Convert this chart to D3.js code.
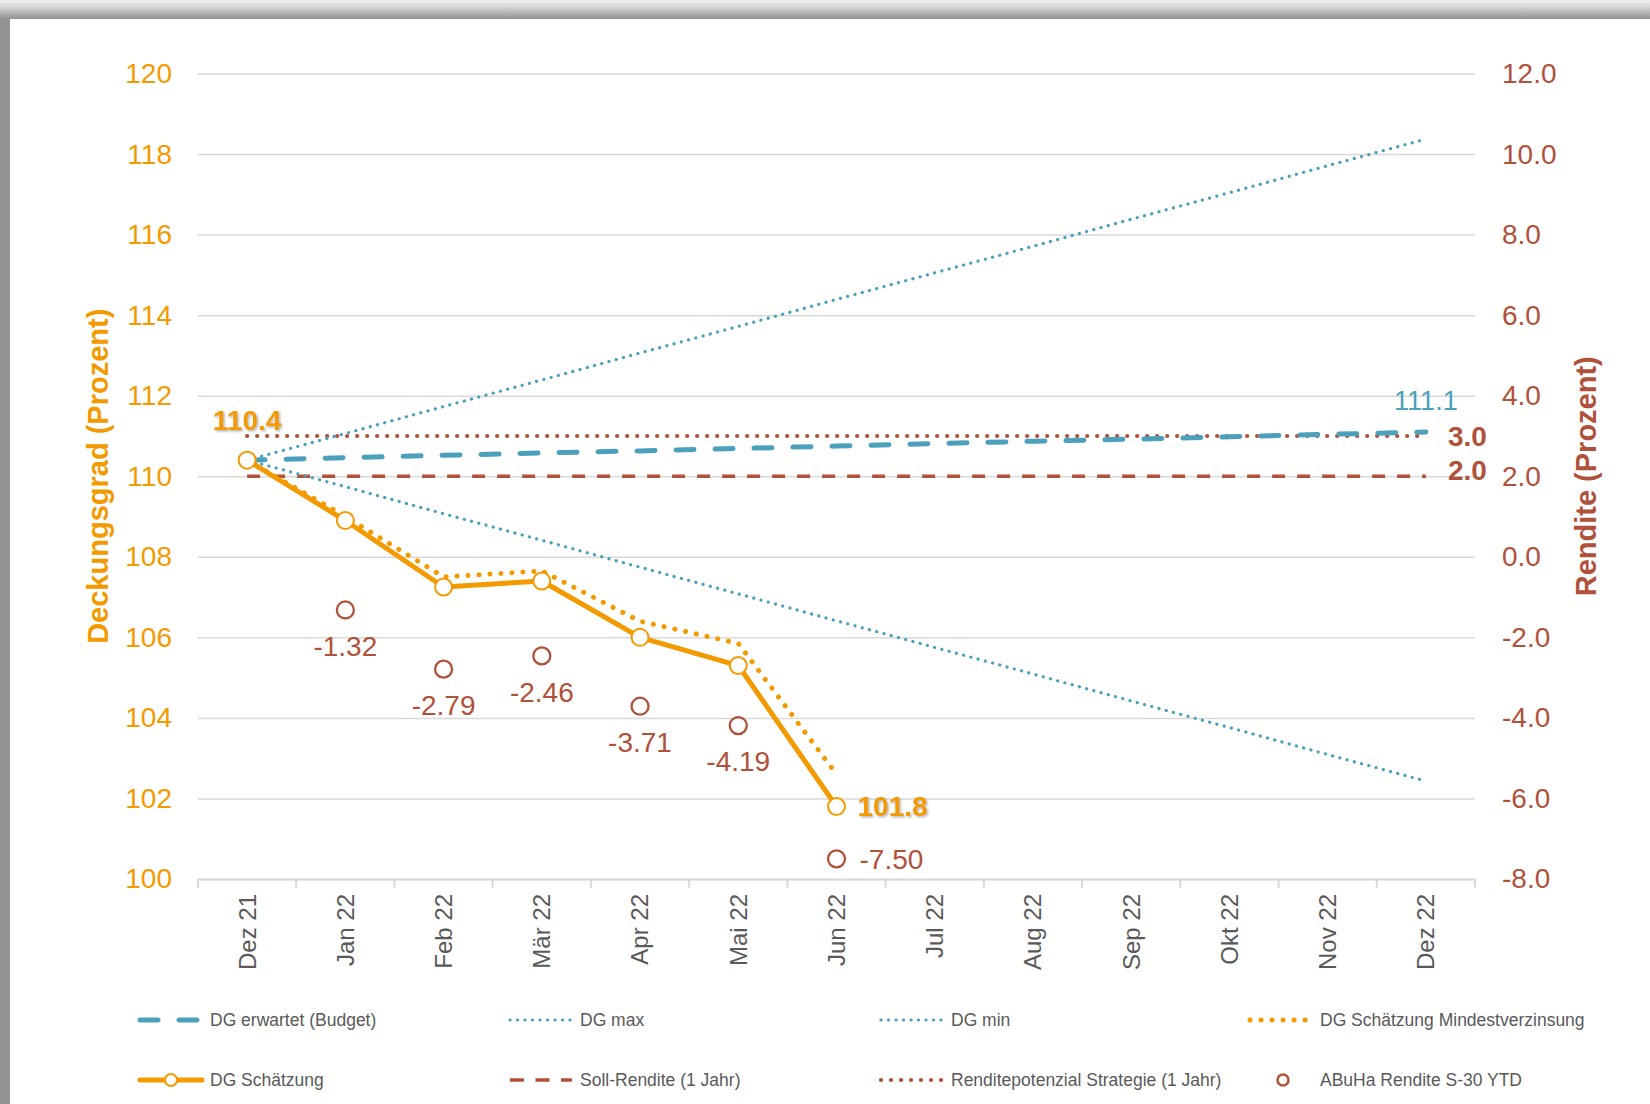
<!DOCTYPE html>
<html>
<head>
<meta charset="utf-8">
<script src="https://cdn.jsdelivr.net/npm/d3@7"></script>
<style>
  body { margin: 0; background: #fff; }
  svg { display: block; font-family: "Liberation Sans", Arial, sans-serif; }
</style>
</head>
<body>
<div id="chart"></div>
<script>
// chart data
var months = ["Dez 21","Jan 22","Feb 22","Mär 22","Apr 22","Mai 22","Jun 22","Jul 22","Aug 22","Sep 22","Okt 22","Nov 22","Dez 22"]
var dgBudget = [110.40,110.46,110.52,110.58,110.63,110.69,110.75,110.81,110.87,110.92,110.98,111.04,111.10]
var dgMax = [110.40,111.06,111.73,112.39,113.06,113.72,114.39,115.05,115.71,116.38,117.04,117.71,118.37]
var dgMin = [110.40,109.74,109.07,108.41,107.74,107.08,106.41,105.75,105.09,104.42,103.76,103.09,102.43]
var dgMindest = [110.40,109.00,107.50,107.65,106.40,105.85,102.60]
var dgSchaetzung = [110.40,108.90,107.25,107.40,106.00,105.30,101.80]
var sollRendite = [2.0,2.0,2.0,2.0,2.0,2.0,2.0,2.0,2.0,2.0,2.0,2.0,2.0]
var renditePotenzial = [3.0,3.0,3.0,3.0,3.0,3.0,3.0,3.0,3.0,3.0,3.0,3.0,3.0]
var abuhaMonths = ["Jan 22","Feb 22","Mär 22","Apr 22","Mai 22","Jun 22"]
var abuhaRendite = [-1.32,-2.79,-2.46,-3.71,-4.19,-7.50]
var leftTicks = [100,102,104,106,108,110,112,114,116,118,120]
var rightTicks = [-8,-6,-4,-2,0,2,4,6,8,10,12]
var legendNames = ["DG erwartet (Budget)","DG max","DG min","DG Schätzung Mindestverzinsung",
                   "DG Schätzung","Soll-Rendite (1 Jahr)","Renditepotenzial Strategie (1 Jahr)","ABuHa Rendite S-30 YTD"]

var ORANGE = "#F39A00", BROWN = "#B0513B", TEAL = "#4BA0BC", GREY = "#595959", GRID = "#D9D9D9"

var W = 1650, H = 1104
var pLeft = 198, pRight = 1475, pTop = 73.5, pBottom = 879

// hyphen instead of unicode minus, like the original
var fmt1 = function(d) { return d3.format(".1f")(d).replace("\u2212", "-") }
var fmt2 = function(d) { return d3.format(".2f")(d).replace("\u2212", "-") }

var svg = d3.select("#chart").append("svg").attr("width", W).attr("height", H)

// window frame
var defs = svg.append("defs")
var grad = defs.append("linearGradient").attr("id", "topband").attr("x1", 0).attr("y1", 0).attr("x2", 0).attr("y2", 1)
grad.append("stop").attr("offset", "0%").attr("stop-color", "#f0f0f0")
grad.append("stop").attr("offset", "35%").attr("stop-color", "#d8d8d8")
grad.append("stop").attr("offset", "100%").attr("stop-color", "#929292")
var shadow = defs.append("filter").attr("id", "shadow").attr("x", "-20%").attr("y", "-30%").attr("width", "140%").attr("height", "160%")
shadow.append("feDropShadow").attr("dx", 1.5).attr("dy", 1.5).attr("stdDeviation", 1.2)
  .attr("flood-color", "#777").attr("flood-opacity", 0.55)

svg.append("rect").attr("width", W).attr("height", H).attr("fill", "#939393")
svg.append("rect").attr("width", W).attr("height", 19).attr("fill", "url(#topband)")
svg.append("rect").attr("x", 10).attr("y", 19).attr("width", W - 10).attr("height", H - 19).attr("fill", "#fff")

var x = d3.scaleBand().domain(months).range([pLeft, pRight])
var xc = function(m) { return x(m) + x.bandwidth() / 2 }
var yL = d3.scaleLinear().domain([100, 120]).range([pBottom, pTop])
var yR = d3.scaleLinear().domain([-8, 12]).range([pBottom, pTop])

// gridlines
var grid = svg.append("g").attr("transform", "translate(" + pLeft + ",0)")
  .call(d3.axisLeft(yL).tickValues(leftTicks).tickSize(-(pRight - pLeft)).tickFormat(""))
grid.select(".domain").remove()
grid.selectAll("line").attr("stroke", GRID).attr("stroke-width", 1.5)

// left axis labels
var yAxisL = svg.append("g").attr("transform", "translate(" + pLeft + ",0)")
  .call(d3.axisLeft(yL).tickValues(leftTicks).tickSize(0).tickPadding(26).tickFormat(d3.format("d")))
yAxisL.select(".domain").remove()
yAxisL.selectAll("text").attr("fill", ORANGE).style("font-size", "28px")

// right axis labels
var yAxisR = svg.append("g").attr("transform", "translate(" + pRight + ",0)")
  .call(d3.axisRight(yR).tickValues(rightTicks).tickSize(0).tickPadding(27).tickFormat(fmt1))
yAxisR.select(".domain").remove()
yAxisR.selectAll("text").attr("fill", BROWN).style("font-size", "28px")

// x axis
var xAxis = svg.append("g").attr("transform", "translate(0," + pBottom + ")")
  .call(d3.axisBottom(x).tickSize(0))
xAxis.select(".domain").attr("stroke", GRID).attr("stroke-width", 2)
xAxis.selectAll("text")
  .attr("transform", "rotate(-90)").attr("x", -15).attr("y", 0).attr("dy", "0.35em")
  .style("text-anchor", "end").style("font-size", "24px").attr("fill", GREY)
svg.append("g").selectAll("line").data(months.concat(["end"])).enter().append("line")
  .attr("x1", function(d) { return d == "end" ? x.range()[1] : x(d) })
  .attr("x2", function(d) { return d == "end" ? x.range()[1] : x(d) })
  .attr("y1", pBottom).attr("y2", pBottom + 9)
  .attr("stroke", GRID).attr("stroke-width", 2)

// axis titles
svg.append("text").attr("transform", "translate(98," + (pTop + pBottom) / 2 + ") rotate(-90)")
  .attr("text-anchor", "middle").attr("dy", "0.35em")
  .style("font-size", "29px").style("font-weight", "bold").attr("fill", ORANGE)
  .text("Deckungsgrad (Prozent)")
svg.append("text").attr("transform", "translate(1586," + (pTop + pBottom) / 2 + ") rotate(-90)")
  .attr("text-anchor", "middle").attr("dy", "0.35em")
  .style("font-size", "29px").style("font-weight", "bold").attr("fill", BROWN)
  .text("Rendite (Prozent)")

// lines
var lineL = d3.line().x(function(d, i) { return xc(months[i]) }).y(function(d) { return yL(d) })
var lineR = d3.line().x(function(d, i) { return xc(months[i]) }).y(function(d) { return yR(d) })

function path(data, gen, color, width, dash) {
  return svg.append("path").datum(data).attr("d", gen)
    .attr("fill", "none").attr("stroke", color).attr("stroke-width", width)
    .attr("stroke-linecap", "round").attr("stroke-linejoin", "round")
    .attr("stroke-dasharray", dash)
}

path(sollRendite, lineR, BROWN, 3.5, "13,12").attr("stroke-linecap", "butt")
path(renditePotenzial, lineR, BROWN, 4.2, "0.1,9.9")
path(dgMax, lineL, TEAL, 3.2, "0.1,7.4")
path(dgMin, lineL, TEAL, 3.2, "0.1,7.4")
path(dgBudget, lineL, TEAL, 5, "18,21")
path(dgMindest, lineL, ORANGE, 5, "0.1,10.9")
path(dgSchaetzung, lineL, ORANGE, 5, null)

// markers
svg.append("g").selectAll("circle").data(dgSchaetzung).enter().append("circle")
  .attr("cx", function(d, i) { return xc(months[i]) }).attr("cy", function(d) { return yL(d) })
  .attr("r", 8.5).attr("fill", "#fff").attr("stroke", ORANGE).attr("stroke-width", 2)

svg.append("g").selectAll("circle").data(abuhaRendite).enter().append("circle")
  .attr("cx", function(d, i) { return xc(abuhaMonths[i]) }).attr("cy", function(d) { return yR(d) })
  .attr("r", 8.5).attr("fill", "none").attr("stroke", BROWN).attr("stroke-width", 2.3)

// data labels
var last = abuhaRendite.length - 1
svg.append("g").selectAll("text").data(abuhaRendite).enter().append("text")
  .attr("x", function(d, i) { return i == last ? xc(abuhaMonths[i]) + 23 : xc(abuhaMonths[i]) })
  .attr("y", function(d, i) { return i == last ? yR(d) : yR(d) + 36 })
  .attr("dy", "0.35em")
  .attr("text-anchor", function(d, i) { return i == last ? "start" : "middle" })
  .style("font-size", "28px").attr("fill", BROWN)
  .text(fmt2)

var n = dgSchaetzung.length - 1
svg.append("text").attr("x", xc(months[0])).attr("y", yL(dgSchaetzung[0]) - 30)
  .attr("text-anchor", "middle").style("font-size", "28px").style("font-weight", "bold")
  .attr("fill", ORANGE).attr("filter", "url(#shadow)").text(fmt1(dgSchaetzung[0]))
svg.append("text").attr("x", xc(months[n]) + 21).attr("y", yL(dgSchaetzung[n])).attr("dy", "0.35em")
  .style("font-size", "28px").style("font-weight", "bold")
  .attr("fill", ORANGE).attr("filter", "url(#shadow)").text(fmt1(dgSchaetzung[n]))

var m = months.length - 1
svg.append("text").attr("x", xc(months[m])).attr("y", yL(dgBudget[m]) - 22)
  .attr("text-anchor", "middle").style("font-size", "27px").attr("fill", TEAL)
  .text(fmt1(dgBudget[m]))
svg.append("text").attr("x", xc(months[m]) + 22).attr("y", yR(renditePotenzial[m])).attr("dy", "0.35em")
  .style("font-size", "28px").style("font-weight", "bold").attr("fill", BROWN)
  .text(fmt1(renditePotenzial[m]))
svg.append("text").attr("x", xc(months[m]) + 22).attr("y", yR(sollRendite[m]) - 6).attr("dy", "0.35em")
  .style("font-size", "28px").style("font-weight", "bold").attr("fill", BROWN)
  .text(fmt1(sollRendite[m]))

// legend
var legX = [140, 510, 881, 1250], legY = [1020, 1080]
var legStyles = [
  {color: TEAL, width: 5, dash: "18,21", cap: "round"},
  {color: TEAL, width: 3.2, dash: "0.1,7.4", cap: "round"},
  {color: TEAL, width: 3.2, dash: "0.1,7.4", cap: "round"},
  {color: ORANGE, width: 5, dash: "0.1,10.9", cap: "round"},
  {color: ORANGE, width: 5, dash: null, cap: "round", marker: true},
  {color: BROWN, width: 3.5, dash: "14,11.5", cap: "butt"},
  {color: BROWN, width: 4.2, dash: "0.1,9.9", cap: "round"},
  {color: BROWN, circle: true}
]
var legend = svg.append("g").selectAll("g").data(legendNames).enter().append("g")
  .attr("transform", function(d, i) { return "translate(" + legX[i % 4] + "," + legY[Math.floor(i / 4)] + ")" })
legend.each(function(d, i) {
  var g = d3.select(this), s = legStyles[i]
  if (s.circle) {
    g.append("circle").attr("cx", 33).attr("cy", 0).attr("r", 5.5)
      .attr("fill", "none").attr("stroke", s.color).attr("stroke-width", 2.5)
  } else {
    g.append("line").attr("x1", 0).attr("x2", 62).attr("y1", 0).attr("y2", 0)
      .attr("stroke", s.color).attr("stroke-width", s.width)
      .attr("stroke-linecap", s.cap).attr("stroke-dasharray", s.dash)
    if (s.marker) g.append("circle").attr("cx", 31).attr("cy", 0).attr("r", 6)
      .attr("fill", "#fff").attr("stroke", s.color).attr("stroke-width", 2)
  }
  g.append("text").attr("x", 70).attr("y", 0).attr("dy", "0.35em")
    .style("font-size", "17.5px").attr("fill", GREY).text(d)
})
</script>
</body>
</html>
